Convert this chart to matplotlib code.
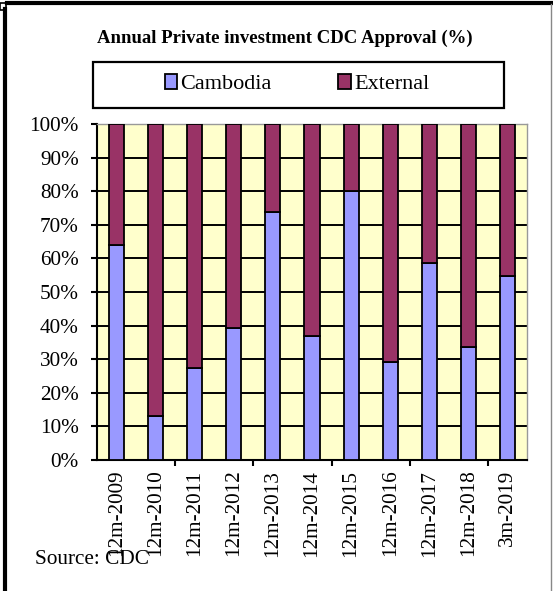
import matplotlib
matplotlib.use("Agg")
import matplotlib.pyplot as plt
from matplotlib.patches import Rectangle
from matplotlib.lines import Line2D

periods = ["12m-2009", "12m-2010", "12m-2011", "12m-2012", "12m-2013", "12m-2014",
           "12m-2015", "12m-2016", "12m-2017", "12m-2018", "3m-2019"]
cambodia = [64, 13, 27.5, 39.4, 73.7, 37, 80, 29.3, 58.5, 33.7, 54.8]
external = [36, 87, 72.5, 60.6, 26.3, 63, 20, 70.7, 41.5, 66.3, 45.2]
yticks = [0, 10, 20, 30, 40, 50, 60, 70, 80, 90, 100]

plt.rcParams["font.family"] = ["Liberation Serif", "DejaVu Serif"]

W, H = 553, 591
fig = plt.figure(figsize=(W / 100, H / 100), dpi=100)
fig.patch.set_facecolor("white")

# plot area (pixels from reference)
ax = fig.add_axes([97 / W, 1 - 460 / H, 430 / W, 336 / H])
ax.set_facecolor("#FFFFCC")

x = list(range(len(periods)))
b1 = ax.bar(x, cambodia, width=0.385, color="#9999FF", edgecolor="black", linewidth=1.3, zorder=3)
b2 = ax.bar(x, external, bottom=cambodia, width=0.385, color="#993366", edgecolor="black",
            linewidth=1.3, zorder=3)

ax.set_xlim(-0.5, len(periods) - 0.5)
ax.set_ylim(0, 100)
ax.set_yticks(yticks)
ax.set_yticklabels([f"{v}%" for v in yticks], fontsize=15.3)
ax.yaxis.grid(True, color="black", linewidth=1.4, zorder=1)
ax.set_axisbelow(True)
ax.tick_params(axis="y", direction="out", length=4, width=1.5, pad=9)

ax.set_xticks(x)
ax.set_xticklabels(periods, rotation=90, fontsize=15.3, va="top")
ax.tick_params(axis="x", which="major", length=0, pad=7)
ax.set_xticks([1.5, 3.5, 5.5, 7.5, 9.5], minor=True)
ax.tick_params(axis="x", which="minor", direction="out", length=4, width=1.5)

for s in ["left", "bottom"]:
    ax.spines[s].set_color("black")
    ax.spines[s].set_linewidth(1.5)
for s in ["top", "right"]:
    ax.spines[s].set_color("#999999")
    ax.spines[s].set_linewidth(1)

fig.text(285 / W, 1 - 38 / H, "Annual Private investment CDC Approval (%)",
         ha="center", va="center", fontsize=13.5, fontweight="bold")

# legend with Excel-like wide box
fig.add_artist(Rectangle((93 / W, 1 - 108 / H), 411 / W, 46 / H, transform=fig.transFigure,
                         fill=False, edgecolor="black", linewidth=1.6))
fig.legend([b1, b2], ["Cambodia", "External"], loc="center", bbox_to_anchor=(297 / W, 1 - 84 / H),
           ncol=2, frameon=False, fontsize=16, handlelength=0.55, handleheight=0.65,
           handletextpad=0.15, columnspacing=3.0)

fig.text(35 / W, 1 - 560 / H, "Source: CDC", ha="left", va="center", fontsize=15.3)

# outer frame
fig.add_artist(Line2D([7 / W, 1], [1 - 2.5 / H, 1 - 2.5 / H], color="black", linewidth=3,
                      transform=fig.transFigure))
fig.add_artist(Line2D([5 / W, 5 / W], [1 - 9 / H, 0], color="black", linewidth=3,
                      transform=fig.transFigure))
fig.add_artist(Line2D([551 / W, 551 / W], [1 - 4 / H, 0], color="#888888", linewidth=1,
                      transform=fig.transFigure))
fig.add_artist(Rectangle((0, 1 - 10 / H), 6 / W, 7 / H, transform=fig.transFigure,
                         facecolor="white", edgecolor="black", linewidth=1.2))

fig.savefig("out.png", dpi=100)
